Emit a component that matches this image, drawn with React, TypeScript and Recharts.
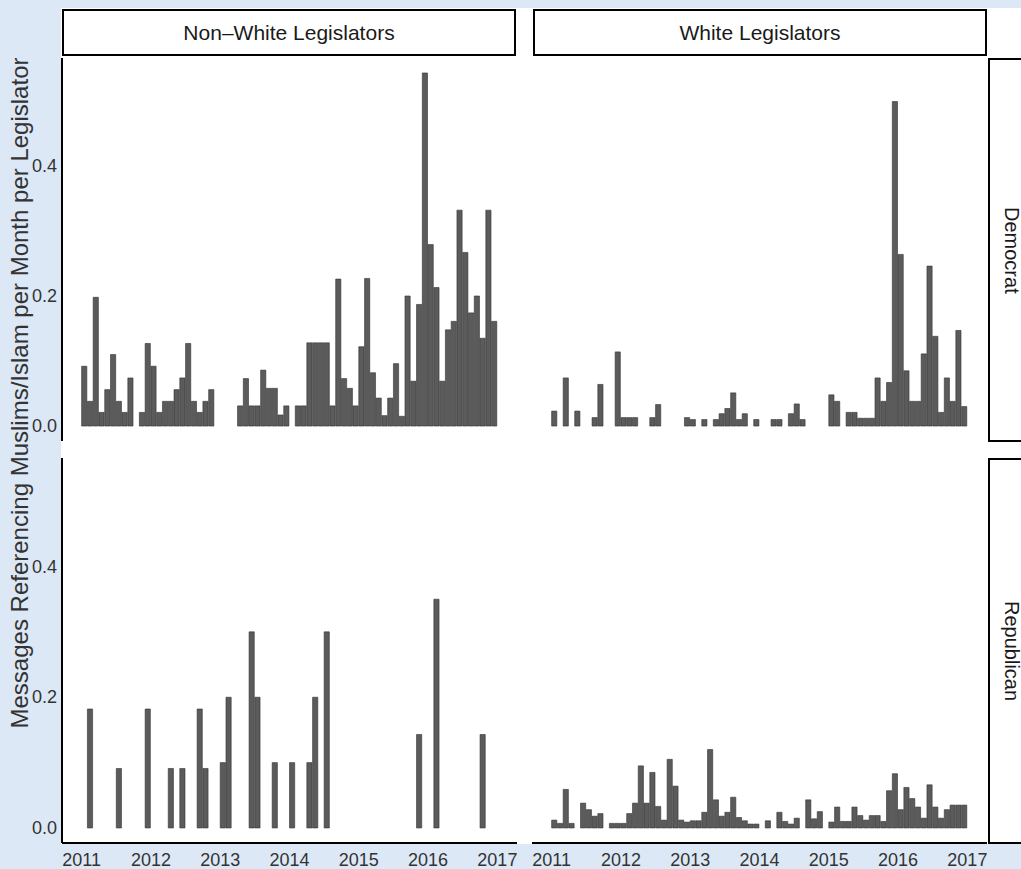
import React from 'react';
import { BarChart, Bar, XAxis, YAxis } from 'recharts';

// monthly values, Jan 2011 .. Dec 2016 (null = no messages that month)
const nonWhiteDem: (number | null)[] = [
  0.092, 0.038, 0.198, 0.021, 0.056, 0.110, 0.038, 0.021, 0.074, null, 0.021, 0.127,
  0.092, 0.021, 0.038, 0.038, 0.056, 0.074, 0.127, 0.038, 0.021, 0.038, 0.056, null,
  null, null, null, 0.031, 0.073, 0.031, 0.031, 0.086, 0.058, 0.058, 0.017, 0.031,
  null, 0.031, 0.031, 0.128, 0.128, 0.128, 0.128, 0.031, 0.226, 0.073, 0.058, 0.031,
  0.122, 0.227, 0.082, 0.043, 0.016, 0.043, 0.096, 0.015, 0.200, 0.069, 0.187, 0.543,
  0.279, 0.213, 0.069, 0.148, 0.161, 0.332, 0.267, 0.174, 0.200, 0.135, 0.332, 0.161,
];

const whiteDem: (number | null)[] = [
  0.023, null, 0.074, null, 0.023, null, null, 0.013, 0.064, null, null, 0.114,
  0.013, 0.013, 0.013, null, null, 0.013, 0.033, null, null, null, null, 0.013,
  0.010, null, 0.010, null, 0.010, 0.019, 0.027, 0.051, 0.010, 0.019, null, 0.010,
  null, null, 0.010, 0.010, null, 0.019, 0.034, 0.010, null, null, null, null,
  0.048, 0.038, null, 0.021, 0.021, 0.012, 0.012, 0.012, 0.074, 0.038, 0.067, 0.499,
  0.264, 0.085, 0.038, 0.038, 0.111, 0.246, 0.138, 0.021, 0.074, 0.038, 0.147, 0.030,
];

const nonWhiteRep: (number | null)[] = [
  null, 0.182, null, null, null, null, 0.091, null, null, null, null, 0.182,
  null, null, null, 0.091, null, 0.091, null, null, 0.182, 0.091, null, null,
  0.1, 0.2, null, null, null, 0.3, 0.2, null, null, 0.1, null, null,
  0.1, null, null, 0.1, 0.2, null, 0.3, null, null, null, null, null,
  null, null, null, null, null, null, null, null, null, null, 0.143, null,
  null, 0.35, null, null, null, null, null, null, null, 0.143, null, null,
];

const whiteRep: (number | null)[] = [
  0.012, 0.007, 0.059, 0.007, null, 0.038, 0.028, 0.018, 0.022, null, 0.007, 0.007,
  0.007, 0.022, 0.038, 0.095, 0.038, 0.085, 0.033, 0.012, 0.105, 0.064, 0.012, 0.009,
  0.011, 0.011, 0.024, 0.120, 0.043, 0.018, 0.024, 0.047, 0.016, 0.011, 0.006, 0.006,
  null, 0.011, null, 0.024, 0.010, 0.006, 0.015, null, 0.043, 0.014, 0.025, null,
  0.009, 0.032, 0.010, 0.010, 0.032, 0.019, 0.012, 0.019, 0.019, 0.010, 0.057, 0.083,
  0.028, 0.062, 0.045, 0.032, 0.015, 0.066, 0.032, 0.015, 0.028, 0.035, 0.035, 0.035,
];

const yearTicks = [0, 12, 24, 36, 48, 60, 72];
const yearLabels = ['2011', '2012', '2013', '2014', '2015', '2016', '2017'];
const yTicks = [0, 0.2, 0.4];
const colLabels = ['Non\u2013White Legislators', 'White Legislators'];
const rowLabels = ['Democrat', 'Republican'];
const yTitle = 'Messages Referencing Muslims/Islam per Month per Legislator';

const FONT = "'Liberation Sans', Arial, Helvetica, sans-serif";
const BG = '#dde8f6';
const PLOT_W = 455;

const toRows = (vals: (number | null)[]) => vals.map((v, i) => ({ x: i + 0.5, v }));

interface PanelProps {
  values: (number | null)[];
  left: number;
  top: number;
  plotH: number;
  showY?: boolean;
  showX?: boolean;
  barSize?: number;
}

const Panel: React.FC<PanelProps> = ({ values, left, top, plotH, showY, showX, barSize = 5.8 }) => {
  const yW = showY ? 62 : 0;
  const xH = showX ? 26 : 0;
  return (
    <div style={{ position: 'absolute', left: left - yW, top }}>
      <BarChart
        width={PLOT_W + yW}
        height={plotH + xH}
        data={toRows(values)}
        margin={{ top: 0, right: 0, bottom: 0, left: 0 }}
        barCategoryGap={0}
        barGap={0}
      >
        <XAxis
          type="number"
          dataKey="x"
          domain={[-3.4, 75.4]}
          allowDataOverflow
          ticks={yearTicks}
          hide={!showX}
          height={26}
          tickLine={false}
          axisLine={{ stroke: '#000', strokeWidth: 2 }}
          tick={(p: any) => (
            <text
              x={p.x}
              y={plotH + 23}
              textAnchor="middle"
              fontSize={18}
              fontFamily={FONT}
              fill="#333"
            >
              {yearLabels[yearTicks.indexOf(p.payload.value)]}
            </text>
          )}
        />
        <YAxis
          type="number"
          domain={[-0.023, 0.566]}
          allowDataOverflow
          ticks={yTicks}
          hide={!showY}
          width={62}
          tickLine={false}
          axisLine={{ stroke: '#000', strokeWidth: 2 }}
          tick={(p: any) => (
            <text
              x={57}
              y={p.y}
              textAnchor="end"
              dominantBaseline="central"
              fontSize={18}
              fontFamily={FONT}
              fill="#333"
            >
              {Number(p.payload.value).toFixed(1)}
            </text>
          )}
        />
        <Bar
          dataKey="v"
          fill="#5b5b5b"
          stroke="#333"
          strokeWidth={0.6}
          barSize={barSize}
          isAnimationActive={false}
        />
      </BarChart>
    </div>
  );
};

const stripBase: React.CSSProperties = {
  position: 'absolute',
  boxSizing: 'border-box',
  border: '2px solid #000',
  background: '#fff',
  display: 'flex',
  alignItems: 'center',
  justifyContent: 'center',
  fontFamily: FONT,
  fontSize: 21,
  color: '#1a1a1a',
  whiteSpace: 'nowrap',
};

const rowStrip: React.CSSProperties = {
  ...stripBase,
  left: 988,
  width: 44,
  borderRight: 'none',
  fontSize: 20,
  writingMode: 'vertical-rl',
};

export default function App() {
  return (
    <div
      style={{
        position: 'absolute',
        left: 0,
        top: 0,
        width: 1021,
        height: 869,
        background: BG,
        overflow: 'hidden',
        fontFamily: FONT,
      }}
    >
      <div style={{ position: 'absolute', left: 61, top: 8, width: 960, height: 836, background: '#fff' }} />

      <div style={{ ...stripBase, left: 62, top: 9, width: 454, height: 47 }}>{colLabels[0]}</div>
      <div style={{ ...stripBase, left: 533, top: 9, width: 454, height: 47 }}>{colLabels[1]}</div>

      <div style={{ ...rowStrip, top: 58, height: 384 }}>{rowLabels[0]}</div>
      <div style={{ ...rowStrip, top: 458, height: 386 }}>{rowLabels[1]}</div>

      <Panel values={nonWhiteDem} left={62} top={58} plotH={383} showY />
      <Panel values={whiteDem} left={532} top={58} plotH={383} />
      <Panel values={nonWhiteRep} left={62} top={458} plotH={385} showY showX barSize={7.3} />
      <Panel values={whiteRep} left={532} top={458} plotH={385} showX />

      <div
        style={{
          position: 'absolute',
          left: 20,
          top: 393,
          transform: 'translate(-50%, -50%) rotate(-90deg)',
          whiteSpace: 'nowrap',
          fontSize: 24,
          color: '#333',
        }}
      >
        {yTitle}
      </div>
    </div>
  );
}
